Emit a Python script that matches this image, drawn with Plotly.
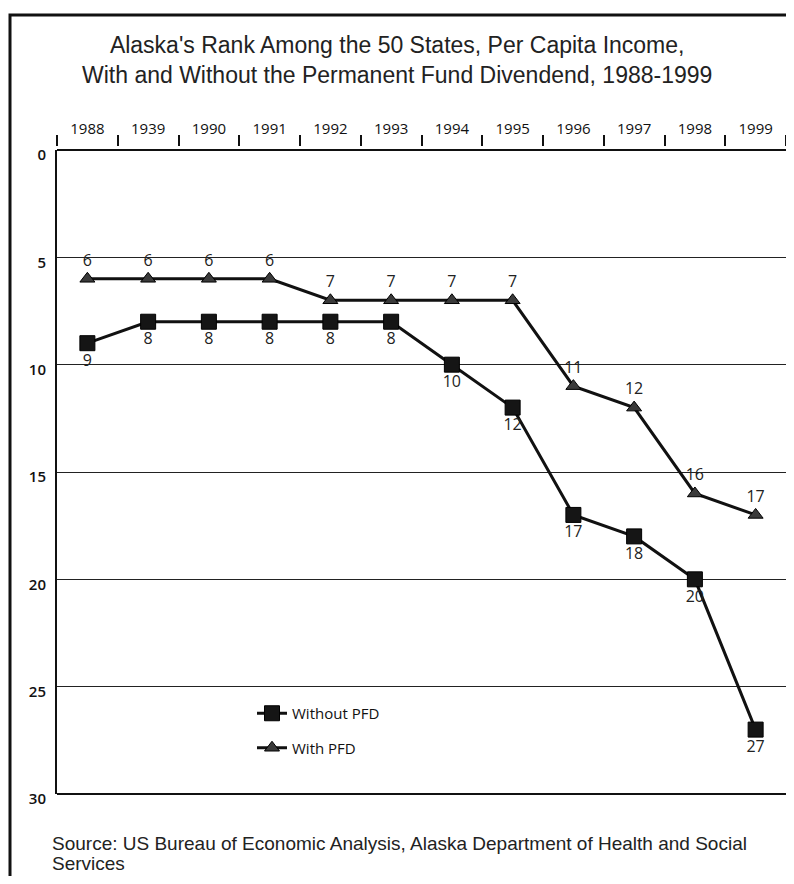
import plotly.graph_objects as go

years = ["1988", "1989", "1990", "1991", "1992", "1993", "1994", "1995", "1996", "1997", "1998", "1999"]
tick_labels = ["1988", "1939", "1990", "1991", "1992", "1993", "1994", "1995", "1996", "1997", "1998", "1999"]
without_pfd = [9, 8, 8, 8, 8, 8, 10, 12, 17, 18, 20, 27]
with_pfd = [6, 6, 6, 6, 7, 7, 7, 7, 11, 12, 16, 17]
y_ticks = [0, 5, 10, 15, 20, 25, 30]

OFF = 8  # page body margin
W, H = 794 - OFF, 884 - 2 * OFF


def fx(x):
    return (x - OFF) / W


def fy(y):
    return 1 - (y - OFF) / H


fig = go.Figure()
fig.add_trace(go.Scatter(
    x=years, y=without_pfd, name="Without PFD", mode="lines+markers+text",
    legendgroup="a",
    line=dict(color="#111111", width=3),
    marker=dict(symbol="square", size=15, color="#151515", line=dict(color="#000", width=1)),
    text=[str(v) for v in without_pfd], textposition="bottom center",
    textfont=dict(family="Open Sans", size=16, color="#222"),
    cliponaxis=False,
))
fig.add_trace(go.Scatter(
    x=years, y=with_pfd, name="With PFD", mode="lines+markers+text",
    legendgroup="b",
    line=dict(color="#111111", width=3),
    marker=dict(symbol="triangle-up", size=13, color="#3a3a3a", line=dict(color="#000", width=1)),
    text=[str(v) for v in with_pfd], textposition="top center",
    textfont=dict(family="Open Sans", size=16, color="#222"),
    cliponaxis=False,
))

fig.update_layout(
    width=W, height=H,
    margin=dict(l=0, r=0, t=0, b=0, pad=0, autoexpand=False),
    paper_bgcolor="white", plot_bgcolor="white",
    showlegend=True,
    legend=dict(x=fx(252), y=fy(697), xanchor="left", yanchor="top",
                bgcolor="rgba(0,0,0,0)",
                font=dict(family="Open Sans", size=15, color="#111", weight=500),
                traceorder="grouped", tracegroupgap=12),
    font=dict(family="Liberation Sans", color="#111"),
)
fig.update_xaxes(
    type="category", side="top", range=[-0.5, 11.5],
    domain=[fx(57), fx(786)],
    anchor="free", position=fy(146), automargin=False,
    tickmode="array", tickvals=years, ticktext=tick_labels,
    tickson="boundaries", ticks="outside", ticklen=11, tickwidth=1.5, tickcolor="#111",
    ticklabelstandoff=9,
    showline=False, showgrid=False,
    tickfont=dict(family="Open Sans", size=15, color="#111", weight=500),
)
fig.update_yaxes(
    domain=[fy(794), fy(150)], automargin=False,
    range=[30, 0], tickmode="array", tickvals=y_ticks,
    showline=True, linecolor="#111", linewidth=2,
    showgrid=True, gridcolor="#222", gridwidth=1, zeroline=False,
    ticks="", ticklabelstandoff=6, ticklabelshift=-5,
    tickfont=dict(family="Open Sans", size=15, color="#111", weight=600),
)

# plot frame top / bottom
fig.add_shape(type="line", xref="x domain", yref="y domain", x0=0, x1=1, y0=1, y1=1,
              line=dict(color="#111", width=2))
fig.add_shape(type="line", xref="x domain", yref="y domain", x0=0, x1=1, y0=0, y1=0,
              line=dict(color="#111", width=2))
# outer frame
fig.add_shape(type="rect", xref="paper", yref="paper",
              x0=fx(10), x1=fx(790), y0=-0.05, y1=fy(15),
              line=dict(color="#111", width=3), fillcolor="rgba(0,0,0,0)", layer="above")

fig.add_annotation(xref="paper", yref="paper", x=fx(397), y=fy(60),
                   xanchor="center", yanchor="middle", showarrow=False,
                   text="Alaska's Rank Among the 50 States, Per Capita Income,<br>With and Without the Permanent Fund Divendend, 1988-1999",
                   font=dict(family="Liberation Sans", size=23, color="#222"))
fig.add_annotation(xref="paper", yref="paper", x=fx(50), y=fy(843),
                   xanchor="left", yanchor="middle", showarrow=False, align="left",
                   text="Source: US Bureau of Economic Analysis, Alaska Department of Health and Social",
                   font=dict(family="Liberation Sans", size=19, color="#222"))
fig.add_annotation(xref="paper", yref="paper", x=fx(50), y=fy(863),
                   xanchor="left", yanchor="middle", showarrow=False, align="left",
                   text="Services",
                   font=dict(family="Liberation Sans", size=19, color="#222"))

fig.write_html("out.html")
